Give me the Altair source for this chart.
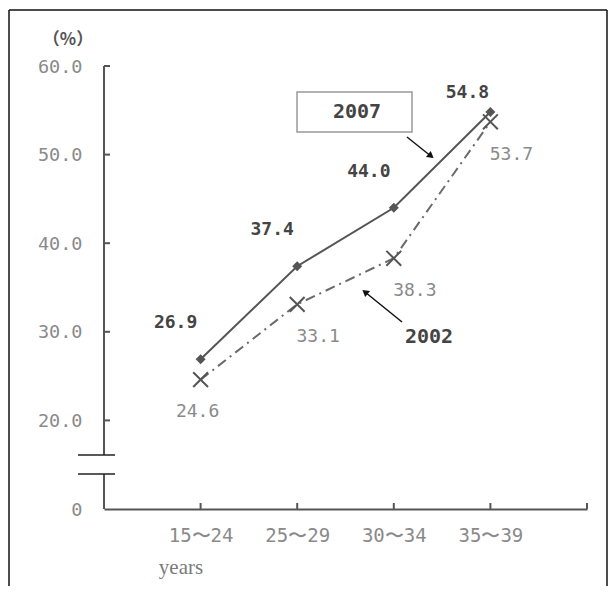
import altair as alt
import pandas as pd

# ---- data ----
categories = ["15〜24", "25〜29", "30〜34", "35〜39"]
rate_2007 = [26.9, 37.4, 44.0, 54.8]
rate_2002 = [24.6, 33.1, 38.3, 53.7]
y_ticks = [10, 20, 30, 40, 50, 60]   # 10 sits at the axis break and is shown as "0"

W, H = 483, 443
AX = "#555555"
LBL = "#8a8a8a"
MONO = "DejaVu Sans Mono"

df07 = pd.DataFrame({"age": categories, "rate": rate_2007})
df02 = pd.DataFrame({"age": categories, "rate": rate_2002})
dticks = pd.DataFrame({"rate": y_ticks[1:]})
one = pd.DataFrame({"a": [0]})

x_axis = alt.Axis(title=None, domain=True, domainColor=AX, domainWidth=2, ticks=False,
                  tickSize=0, grid=False, labelFont=MONO, labelFontSize=19,
                  labelColor=LBL, labelPadding=17, labelAngle=0)
y_axis = alt.Axis(title=None, values=y_ticks, domain=False, ticks=False, tickSize=0,
                  grid=False, labelFont=MONO, labelFontSize=18.5, labelColor=LBL,
                  labelPadding=22,
                  labelExpr="datum.value == 10 ? '0' : format(datum.value, '.1f')")

X = alt.X("age:N", sort=categories, scale=alt.Scale(type="point", padding=1), axis=x_axis)
Y = alt.Y("rate:Q", scale=alt.Scale(domain=[10, 60], nice=False, zero=False), axis=y_axis)

line07 = alt.Chart(df07).mark_line(color="#555555", strokeWidth=2).encode(x=X, y=Y)
line02 = alt.Chart(df02).mark_line(color="#6a6a6a", strokeWidth=2,
                                   strokeDash=[10, 5, 2, 5]).encode(x=X, y=Y)
pts07 = alt.Chart(df07).mark_point(shape="diamond", filled=True, size=100,
                                   color="#555555", opacity=1).encode(x=X, y=Y)
pts02 = alt.Chart(df02).mark_point(shape="M-1,-1L1,1M-1,1L1,-1", filled=False, size=220,
                                   color="#555555", strokeWidth=2, opacity=1).encode(x=X, y=Y)

bold_txt = dict(font=MONO, fontSize=18, fontWeight="bold", color="#444444",
                align="center", baseline="middle")
norm_txt = dict(font=MONO, fontSize=18, color="#8a8a8a", align="center", baseline="middle")

lab07a = alt.Chart(df07).transform_filter(alt.datum.age != categories[3]).mark_text(
    dx=-25, dy=-36, **bold_txt).encode(x=X, y=Y, text=alt.Text("rate:Q", format=".1f"))
lab07b = alt.Chart(df07).transform_filter(alt.datum.age == categories[3]).mark_text(
    dx=-23, dy=-19, **bold_txt).encode(x=X, y=Y, text=alt.Text("rate:Q", format=".1f"))
lab02a = alt.Chart(df02).transform_filter(alt.datum.age == categories[0]).mark_text(
    dx=-3, dy=32, **norm_txt).encode(x=X, y=Y, text=alt.Text("rate:Q", format=".1f"))
lab02b = alt.Chart(df02).transform_filter(alt.datum.age != categories[0]).mark_text(
    dx=21, dy=33, **norm_txt).encode(x=X, y=Y, text=alt.Text("rate:Q", format=".1f"))

# inward ticks
ytick = alt.Chart(dticks).mark_rule(color=AX, strokeWidth=2).encode(
    y=Y, x=alt.value(0), x2=alt.value(6))
xtick = alt.Chart(df07).mark_rule(color=AX, strokeWidth=2).encode(
    x=X, y=alt.value(H - 6), y2=alt.value(H))
xend = alt.Chart(one).mark_rule(color=AX, strokeWidth=2).encode(
    x=alt.value(W), y=alt.value(H - 6), y2=alt.value(H))

# broken y axis line
yax_top = alt.Chart(one).mark_rule(color=AX, strokeWidth=2).encode(
    x=alt.value(0), y=alt.value(0), y2=alt.value(389))
yax_bot = alt.Chart(one).mark_rule(color=AX, strokeWidth=2).encode(
    x=alt.value(0), y=alt.value(408), y2=alt.value(H))
brk1 = alt.Chart(one).mark_rule(color="#222222", strokeWidth=1.5).encode(
    x=alt.value(-26), x2=alt.value(11), y=alt.value(389))
brk2 = alt.Chart(one).mark_rule(color="#222222", strokeWidth=1.5).encode(
    x=alt.value(-26), x2=alt.value(11), y=alt.value(408))

unit = alt.Chart(one).mark_text(text="（%）", font="Noto Sans CJK JP", fontSize=17,
                                fontWeight="bold", color="#555555", align="center",
                                baseline="middle").encode(
    x=alt.value(-36), y=alt.value(-26))
years = alt.Chart(one).mark_text(text="years", font="Liberation Serif", fontSize=21,
                                 color="#7a7a7a", align="center", baseline="middle").encode(
    x=alt.value(77), y=alt.value(502))

# annotations
box07 = alt.Chart(one).mark_rect(fill="white", stroke="#999999", strokeWidth=1.5).encode(
    x=alt.value(193), x2=alt.value(308), y=alt.value(26), y2=alt.value(66))
txt07 = alt.Chart(one).mark_text(text="2007", font=MONO, fontSize=20, fontWeight="bold",
                                 color="#444444", align="center", baseline="middle").encode(
    x=alt.value(253), y=alt.value(46))
arr07 = alt.Chart(one).mark_rule(color="#111111", strokeWidth=1.5).encode(
    x=alt.value(303), y=alt.value(71), x2=alt.value(328), y2=alt.value(91))
head07 = alt.Chart(one).mark_point(shape="triangle-right", filled=True, size=60,
                                   color="#111111", opacity=1, angle=38).encode(
    x=alt.value(327), y=alt.value(90))
txt02 = alt.Chart(one).mark_text(text="2002", font=MONO, fontSize=20, fontWeight="bold",
                                 color="#444444", align="center", baseline="middle").encode(
    x=alt.value(325), y=alt.value(271))
arr02 = alt.Chart(one).mark_rule(color="#111111", strokeWidth=1.5).encode(
    x=alt.value(298), y=alt.value(256), x2=alt.value(261), y2=alt.value(226))
head02 = alt.Chart(one).mark_point(shape="triangle-right", filled=True, size=60,
                                   color="#111111", opacity=1, angle=219).encode(
    x=alt.value(261), y=alt.value(226))

# outer frame
fr_l = alt.Chart(one).mark_rule(color="#111111", strokeWidth=1.5).encode(
    x=alt.value(-95), y=alt.value(-56), y2=alt.value(530))
fr_t = alt.Chart(one).mark_rule(color="#111111", strokeWidth=1.5).encode(
    x=alt.value(-95), x2=alt.value(503), y=alt.value(-56))
fr_r = alt.Chart(one).mark_rule(color="#111111", strokeWidth=1.5).encode(
    x=alt.value(503), y=alt.value(-56), y2=alt.value(530))

chart = alt.layer(
    line07, line02, pts07, pts02, lab07a, lab07b, lab02a, lab02b,
    ytick, xtick, xend, yax_top, yax_bot, brk1, brk2, unit, years,
    box07, txt07, arr07, head07, txt02, arr02, head02, fr_l, fr_t, fr_r
).properties(
    width=W, height=H,
    autosize=alt.AutoSizeParams(type="none"),
    padding={"left": 96, "top": 58, "right": 21, "bottom": 77},
    background="white",
).configure_view(stroke="transparent")

chart.save("out.html", embed_options={"renderer": "svg", "actions": False})
